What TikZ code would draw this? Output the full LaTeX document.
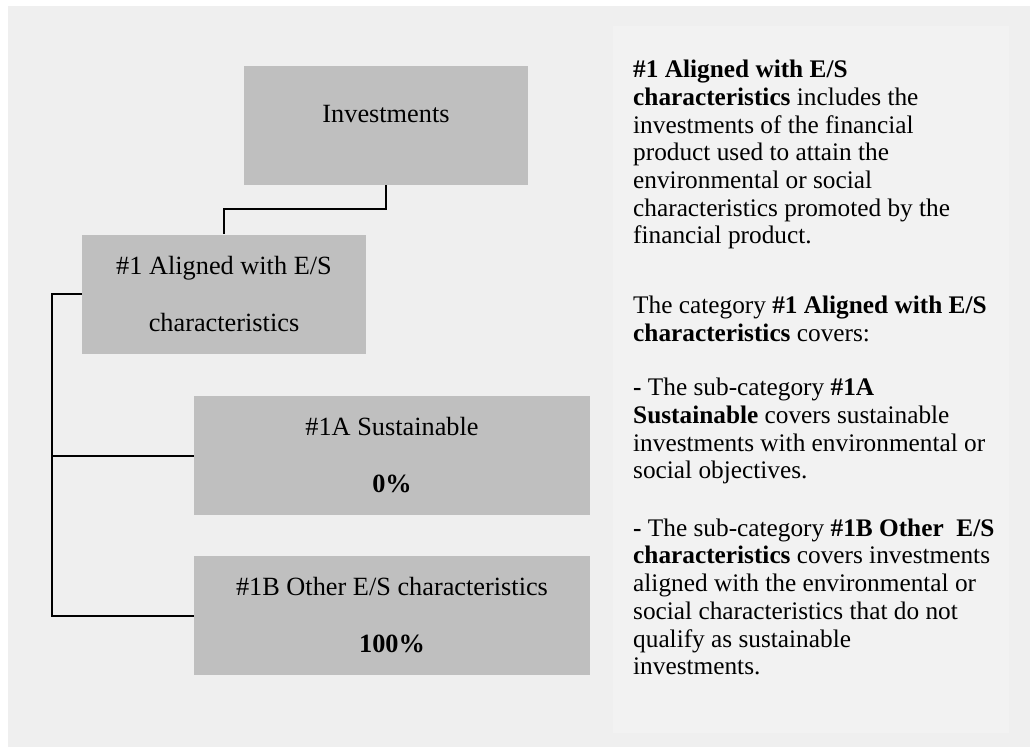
\documentclass[tikz,border=0pt]{standalone}
\usepackage{fontspec}
\setmainfont{Liberation Serif}
\definecolor{pagegrey}{HTML}{EFEFEF}
\definecolor{panelgrey}{HTML}{F2F2F2}
\definecolor{boxgrey}{HTML}{BFBFBF}
\tikzset{
  catbox/.style={rectangle, fill=boxgrey, minimum height=119pt, inner sep=0pt,
    align=center, font=\fontsize{26.3}{57}\selectfont},
  conn/.style={draw=black, line width=2pt},
  note/.style={anchor=north west, inner sep=0pt, align=left,
    font=\fontsize{25.3}{27.7}\selectfont}
}
\begin{document}
\begin{tikzpicture}[x=1pt,y=-1pt]
        \useasboundingbox (0,0) rectangle (1030,747);
        \fill[pagegrey] (8,6) rectangle (1030,747);
        \fill[panelgrey] (613,26) rectangle (1009,733);
        %Left side
        \node[catbox, minimum width=284pt, text depth=24pt] (INV) at (386,125.5) {Investments};
        \node[catbox, minimum width=284pt] (AL)  at (224,294)   {\#1 Aligned with E/S\\characteristics};
        \node[catbox, minimum width=396pt] (SUS) at (392,455.5) {\#1A Sustainable\\\textbf{0\%}};
        \node[catbox, minimum width=396pt] (OTH) at (392,615.5) {\#1B Other E/S characteristics\\\textbf{100\%}};
        \coordinate (TRUNK) at (52,294);

        \draw[conn] (INV.south) -- ++(0,24) -| (AL.north);
        \draw[conn] (AL.west) -- (TRUNK) |- (OTH.west);
        \draw[conn] (TRUNK) |- (SUS.west);

        %Right side
        \node[note] (P1) at (633,60)
          {\textbf{\#1 Aligned with E/S}\\
           \textbf{characteristics} includes the\\
           investments of the financial\\
           product used to attain the\\
           environmental or social\\
           characteristics promoted by the\\
           financial product.};
        \node[note] (P2) at (633,296)
          {The category \textbf{\#1 Aligned with E/S}\\
           \textbf{characteristics} covers:};
        \node[note] (P3) at (633,378)
          {\textbf{-} The sub-category \textbf{\#1A}\\
           \textbf{Sustainable} covers sustainable\\
           investments with environmental or\\
           social objectives.};
        \node[note] (P4) at (633,518.5)
          {\textbf{-} The sub-category \textbf{\#1B Other\ \ E/S}\\
           \textbf{characteristics} covers investments\\
           aligned with the environmental or\\
           social characteristics that do not\\
           qualify as sustainable\\
           investments.};
    \end{tikzpicture}
\end{document}
